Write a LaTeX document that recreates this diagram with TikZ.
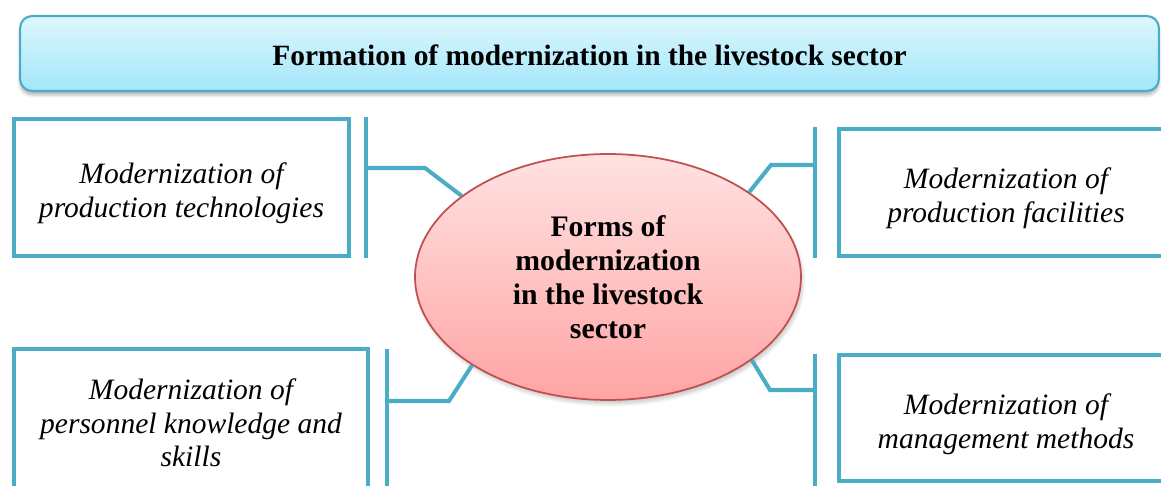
\documentclass[tikz,border=0pt]{standalone}
\usepackage{fontspec}
\setmainfont{Liberation Serif}
\usepackage{xcolor}
\usetikzlibrary{
	shapes.geometric,
	shadows.blur,
	positioning,
	calc
}
\definecolor{aqualine}{HTML}{4BACC6}
\definecolor{bannertop}{HTML}{DDF7FD}
\definecolor{bannerbot}{HTML}{A3E7FA}
\definecolor{hubtop}{HTML}{FFE2E2}
\definecolor{hubbot}{HTML}{FFA4A4}
\definecolor{hubline}{HTML}{C0504D}
% premiere ligne un peu plus haute -> texte descendu dans le cadre
\newcommand{\padtop}[1]{\raisebox{0pt}[\dimexpr\height+6.8pt\relax][\depth]{#1}}
\tikzstyle{formbox} = [rectangle, draw=aqualine, line width=2.3pt, fill=white, align=center, anchor=center, font={\fontsize{16.8}{19.2}\selectfont\itshape}]
\tikzstyle{link} = [draw=aqualine, line width=2.3pt]

\begin{document}
\begin{tikzpicture}[x=0.02cm, y=-0.02cm]
		
		\useasboundingbox (0,0) rectangle (1161,486);
		\clip (0,0) rectangle (1161,486);
		
		% ====== Bandeau titre ======
		\node[draw=aqualine, line width=1.2pt, rounded corners=0.24cm,
		top color=bannertop, bottom color=bannerbot,
		blur shadow={shadow xshift=0mm, shadow yshift=-0.8mm, shadow opacity=30, shadow blur steps=6},
		minimum width=22.78cm, minimum height=1.5cm, anchor=center,
		font={\fontsize{16.75}{19.2}\selectfont\bfseries}]
		(banner) at (589.5,53.5) {\raisebox{0pt}[\dimexpr\height+2.2pt\relax][\depth]{Formation of modernization in the livestock sector}};
		
		% ====== Ellipse centrale ======
		\node[ellipse, draw=hubline, line width=1pt, inner sep=0pt,
		top color=hubtop, bottom color=hubbot,
		blur shadow={shadow xshift=0.4mm, shadow yshift=-0.8mm, shadow opacity=20, shadow blur steps=6},
		minimum width=7.72cm, minimum height=4.92cm, align=center,
		font={\fontsize{16.95}{19.4}\selectfont\bfseries}]
		(hub) at (608,277) {Forms of\\ modernization\\ in the livestock\\ sector};
		
		% ====== Blocs ======
		\node[formbox, minimum width=6.7cm, minimum height=2.74cm]
		(tech) at (181.5,187.5) {\padtop{Modernization of}\\ production technologies};
		
		\node[formbox, minimum width=6.68cm, minimum height=2.54cm]
		(facil) at (1006,192.5) {\padtop{Modernization of}\\ production facilities};
		
		\node[formbox, minimum width=7.08cm, minimum height=2.96cm]
		(staff) at (191,423) {Modernization of\\ personnel knowledge and\\ skills};
		
		\node[formbox, minimum width=6.68cm, minimum height=2.52cm]
		(manag) at (1006,418) {\padtop{Modernization of}\\ management methods};
		
		% ====== Barres ======
		\coordinate (b1t) at (366,117); \coordinate (b1b) at (366,258);
		\coordinate (b2t) at (815,127); \coordinate (b2b) at (815,258);
		\coordinate (b3t) at (387,349); \coordinate (b3b) at (387,500);
		\coordinate (b4t) at (815,354); \coordinate (b4b) at (815,500);
		\draw[link] (b1t) -- (b1b);
		\draw[link] (b2t) -- (b2b);
		\draw[link] (b3t) -- (b3b);
		\draw[link] (b4t) -- (b4b);
		
		% ====== Liaisons vers l'ellipse ======
		\draw[link] (366,168) --++(59,0) -- (hub.151);
		\draw[link] (815,165) --++(-44,0) -- (hub.31);
		\draw[link] (387,401) --++(62,0) -- (hub.213);
		\draw[link] (815,390) --++(-45,0) -- (hub.330);
		
\end{tikzpicture}
\end{document}
